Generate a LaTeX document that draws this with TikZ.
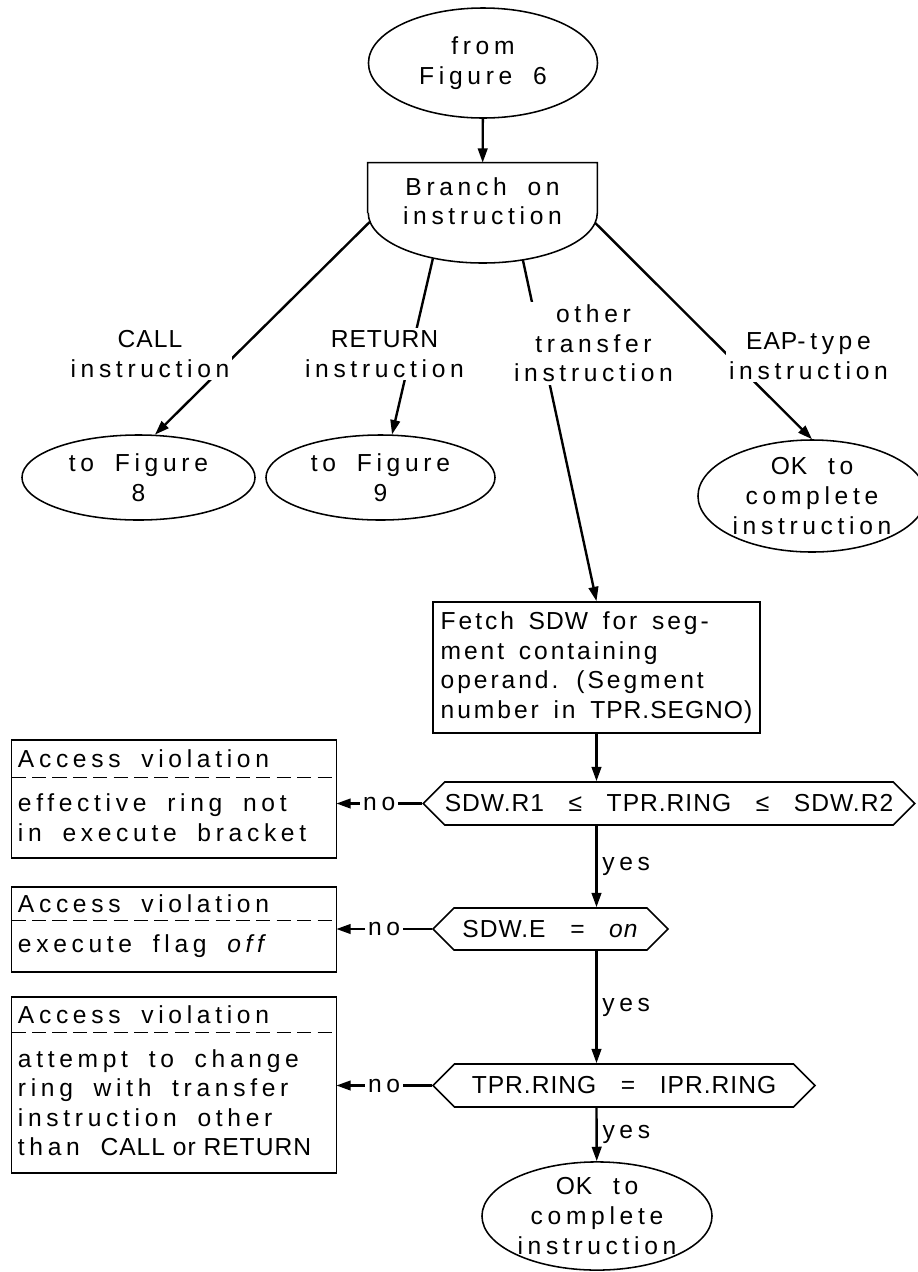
\documentclass[tikz,border=0pt]{standalone}
\usepackage{fontspec}
\setmainfont{Liberation Sans}[LetterSpace=19,WordSpace=1.8]
\newfontfamily\capsfont{Liberation Sans}[LetterSpace=4]
\newfontfamily\fetchfont{Liberation Sans}[LetterSpace=12,WordSpace=1.5]
\newcommand{\cp}[1]{{\capsfont #1}}
\newcommand{\chartsize}{\fontsize{17.5}{21}\selectfont}
\usetikzlibrary{positioning,shapes.geometric,shapes.symbols,arrows.meta}

\begin{document}
\begin{tikzpicture}[x=0.025cm,y=-0.025cm,font=\chartsize,
    >={Triangle[length=3.6mm,width=2.4mm]}]
    \tikzstyle{T}=[ellipse,draw,line width=1.1pt,inner sep=0pt,align=center]
    \tikzstyle{P}=[rectangle,draw,line width=1.1pt,inner xsep=1.5pt,align=left,font=\chartsize\fetchfont]
    \tikzstyle{D}=[signal,signal to=east and west,signal pointer angle=90,draw,line width=1.1pt,inner sep=0pt]
    \tikzstyle{H}=[rectangle,inner xsep=0.15cm,inner ysep=0pt,text width=7.8cm,align=left,
        execute at begin node={\spaceskip=0pt\relax}]
    \tikzstyle{L}=[fill=white,inner sep=2pt,align=center]
    \tikzstyle{A}=[->,line width=1.7pt]

    \useasboundingbox (0,0) rectangle (917,1272);

    % entry and branch
    \node [T,minimum width=5.725cm,minimum height=2.75cm] (from6) at (483,63) {from\\Figure 6};
    \node [minimum width=5.725cm,minimum height=2.5cm,inner sep=0pt,
        label={[align=center,yshift=0.3cm]center:Branch on\\instruction}] (branch) at (482.5,213) {};
    \draw [line width=1.1pt] (branch.west) |- (branch.north) -| (branch.east)
        arc [start angle=0,end angle=-180,x radius=2.8625cm,y radius=1.25cm];

    \node [T,minimum width=5.825cm,minimum height=2.125cm] (to8) at (138.5,477.5) {to Figure\\8};
    \node [T,minimum width=5.725cm,minimum height=2.125cm] (to9) at (380.5,477.5) {to Figure\\9};
    \node [T,minimum width=5.7cm,minimum height=2.8cm] (okA) at (812,496) {\cp{OK} to\\complete\\instruction};

    \node [P,minimum width=8.175cm,minimum height=3.275cm] (fetch) at (596.5,667.5)
        {Fetch \cp{SDW} for seg-\\ment containing\\operand. (Segment\\number in \cp{TPR.SEGNO)}};

    % checks
    \node [D,minimum width=11.8cm,minimum height=1.075cm] (hexA) at (669,803.5)
        {\cp{SDW.R1\quad≤\quad TPR.RING\quad≤\quad SDW.R2}};
    \node [D,minimum width=5.875cm,minimum height=1.05cm] (hexB) at (550.5,929)
        {\cp{SDW.E\quad=\quad\textit{on}}};
    \node [D,minimum width=9.55cm,minimum height=1.075cm] (hexC) at (624,1085.5)
        {\cp{TPR.RING\quad=\quad IPR.RING}};
    \node [T,minimum width=5.75cm,minimum height=2.65cm] (okB) at (597,1216) {\cp{OK} to\\complete\\instruction};

    % access violations
    \node [H,minimum height=0.925cm] (av1h) at (174,758.5) {Access violation};
    \node [H,minimum height=2cm,below=0pt of av1h] (av1b) {effective ring not\\in execute bracket};
    \node [H,minimum height=0.825cm] (av2h) at (174,903.5) {Access violation};
    \node [H,minimum height=1.275cm,below=0pt of av2h] (av2b) {execute flag \textit{off}};
    \node [H,minimum height=0.875cm] (av3h) at (174,1014.5) {Access violation};
    \node [H,minimum height=3.5cm,below=0pt of av3h] (av3b)
        {attempt to change\\ring with transfer\\instruction other\\than \cp{CALL or RETURN}};

    \draw [line width=1.1pt] (av1h.north west) rectangle (av1b.south east);
    \draw [line width=0.9pt,dash pattern=on 10pt off 4.5pt] (av1h.south west) -- (av1h.south east);
    \draw [line width=1.1pt] (av2h.north west) rectangle (av2b.south east);
    \draw [line width=0.9pt,dash pattern=on 10pt off 4.5pt] (av2h.south west) -- (av2h.south east);
    \draw [line width=1.1pt] (av3h.north west) rectangle (av3b.south east);
    \draw [line width=0.9pt,dash pattern=on 10pt off 4.5pt] (av3h.south west) -- (av3h.south east);

    % connectors from the branch, each with its label on top
    \draw [A] (from6) -- (branch);
    \draw [A] ([xshift=0.05cm,yshift=-0.225cm]branch.west) -- (to8.69);
    \node [L] (callL) at (150,354) {\cp{CALL}\\instruction};
    \draw [A] ([xshift=-1.24cm,yshift=0.12cm]branch.south) -- (to9.75);
    \node [L] (retL) at (384.5,354) {\cp{RETURN}\\instruction};
    \draw [A] ([xshift=1.01cm,yshift=0.08cm]branch.south) -- (fetch.north);
    \node [L] (othL) at (593.5,343.5) {other\\transfer\\instruction};
    \draw [A] ([xshift=-0.05cm,yshift=-0.25cm]branch.east) -- (okA.north);
    \node [L] (eapL) at (808.5,356) {\cp{EAP}-type\\instruction};

    \draw [A] (fetch) -- (fetch |- hexA.north);
    \draw [A] (fetch |- hexA.south) -- (fetch |- hexB.north) node [midway,right] {yes};
    \draw [A] (fetch |- hexB.south) -- (fetch |- hexC.north) node [midway,right] {yes};
    \draw [A] (fetch |- hexC.south) -- (okB) node [midway,right] {yes};

    \draw [A] (hexA.west) -- (hexA.west -| av1b.east) node [midway,L] {no};
    \draw [A] (hexB.west) -- (hexB.west -| av2b.east) node [midway,L] {no};
    \draw [A] (hexC.west) -- (hexC.west -| av3b.east) node [midway,L] {no};
\end{tikzpicture}
\end{document}
